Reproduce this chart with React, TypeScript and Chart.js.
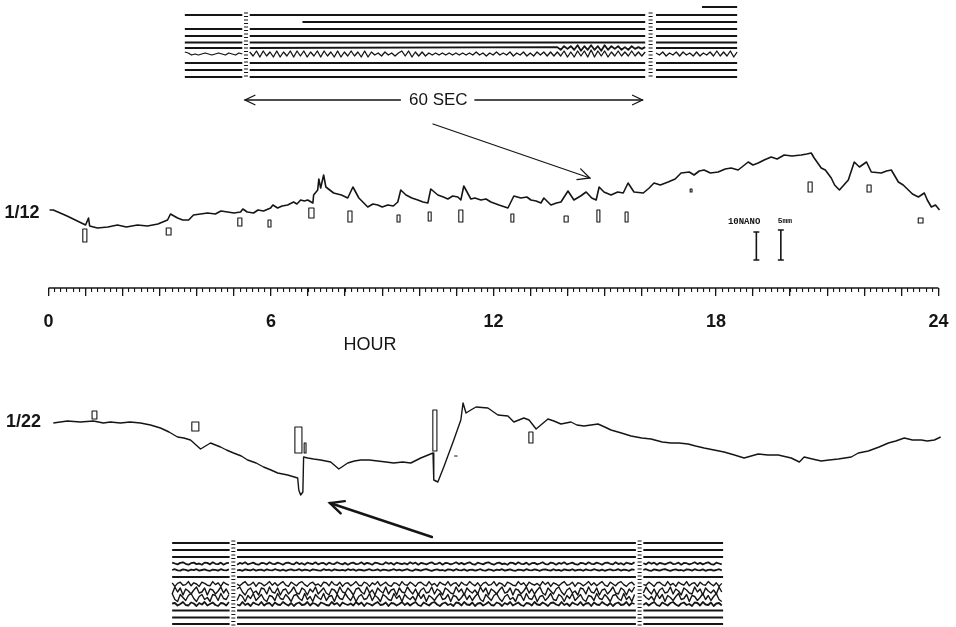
import React, { useEffect, useRef } from 'react';
import { Chart, registerables } from 'chart.js';

Chart.register(...registerables);

// ================= DATA =================
// Record of 1/12 : hour of day -> relative current level
const HOURS_0112 = [0.03,0.13,0.5,1.00,1.08,1.11,1.32,1.6,1.86,2.1,2.4,2.67,2.95,3.21,3.29,3.48,3.62,3.78,3.91,4.1,4.29,4.5,4.65,4.83,5.0,5.18,5.24,5.36,5.53,5.65,5.80,5.99,6.05,6.18,6.3,6.45,6.61,6.7,6.80,6.9,6.99,7.13,7.15,7.26,7.29,7.34,7.42,7.48,7.69,7.9,8.07,8.21,8.37,8.61,8.75,8.88,9.0,9.15,9.3,9.42,9.50,9.64,9.8,9.96,10.1,10.23,10.31,10.50,10.65,10.77,10.9,11.04,11.12,11.20,11.39,11.5,11.66,11.8,11.93,12.15,12.39,12.55,12.74,12.9,13.01,13.15,13.28,13.36,13.55,13.7,13.82,14.01,14.17,14.35,14.50,14.65,14.77,14.85,14.98,15.17,15.35,15.5,15.63,15.79,16.04,16.2,16.33,16.5,16.71,16.9,17.06,17.28,17.41,17.55,17.68,17.85,18.06,18.25,18.41,18.6,18.87,19.0,19.14,19.3,19.49,19.65,19.84,20.05,20.30,20.45,20.57,20.65,20.84,20.95,21.11,21.2,21.33,21.45,21.57,21.73,21.87,22.06,22.19,22.46,22.6,22.73,22.92,23.05,23.19,23.3,23.46,23.62,23.7,23.81,23.92,24.03];
const VALUES_0112 = [30,30,24,15,22,14,12,13,15,13,15,14,16,20,26,22,20,20,25,26,27,26,29,28,27,28,31,28,27,30,29,32,35,32,34,35,38,36,40,39,40,37,45,50,61,52,65,53,47,45,42,53,42,33,36,35,33,35,34,38,50,45,42,40,38,37,51,45,43,41,44,43,40,54,41,42,40,41,38,35,32,44,42,43,40,39,37,42,35,37,38,49,40,44,48,42,40,53,48,45,48,47,57,48,47,52,57,55,58,61,67,68,65,69,70,67,68,71,72,70,78,75,77,80,83,81,85,84,85,86,87,82,72,70,62,55,50,55,60,78,73,78,68,67,69,70,58,55,50,46,43,47,40,33,35,30];

// Record of 1/22
const HOURS_0122 = [0.13,0.51,0.86,1.21,1.48,1.67,1.94,2.2,2.48,2.75,3.02,3.25,3.48,3.65,3.83,4.10,4.37,4.64,4.8,4.99,5.2,5.37,5.6,5.80,6.0,6.18,6.45,6.72,6.75,6.80,6.86,6.88,6.99,7.15,7.34,7.61,7.83,8.07,8.25,8.42,8.65,8.88,9.1,9.31,9.55,9.77,10.04,10.37,10.39,10.50,10.66,10.93,11.12,11.18,11.26,11.39,11.53,11.85,12.12,12.39,12.55,12.82,12.96,13.15,13.47,13.63,13.82,14.09,14.25,14.44,14.82,15.0,15.17,15.45,15.71,16.0,16.25,16.55,16.79,17.0,17.25,17.45,17.68,17.95,18.22,18.5,18.76,19.14,19.4,19.68,20.03,20.25,20.38,20.6,20.84,21.05,21.30,21.65,21.84,22.11,22.4,22.65,22.85,23.08,23.3,23.54,23.7,23.89,24.06];
const VALUES_0122 = [77,79,78,79,77,78,77,78,77,75,72,68,63,62,60,51,57,53,50,47,44,40,37,33,30,27,25,22,10,5,8,43,42,41,40,38,31,37,39,40,40,39,38,37,38,37,42,47,20,18,33,60,80,97,87,90,93,92,85,84,78,82,80,71,81,79,76,78,75,74,76,73,70,67,64,62,61,58,57,57,56,54,52,50,48,45,42,46,45,45,42,38,43,41,39,40,41,43,47,49,53,57,59,62,60,60,59,60,63];

// Event markers (hour, low, high, duration in hours)
const MARK_0112_HOUR = [0.98,3.24,5.16,5.96,7.09,8.13,9.44,10.28,11.12,12.51,13.96,14.83,15.59,17.33,20.54,22.13,23.52];
const MARK_0112_LOW  = [-2,5,14,13,22,18,18,19,18,18,18,18,18,48,48,48,17];
const MARK_0112_HIGH = [11,12,22,20,32,29,25,28,30,26,24,30,28,51,58,55,22];
const MARK_0112_DUR  = [0.11,0.13,0.11,0.08,0.14,0.11,0.08,0.08,0.11,0.08,0.11,0.08,0.08,0.05,0.11,0.11,0.13];

const MARK_0122_HOUR = [1.24,3.96,6.74,6.92,10.42,13.01,10.98];
const MARK_0122_LOW  = [81,69,47,47,49,57,44];
const MARK_0122_HIGH = [89,78,73,57,90,68,44];
const MARK_0122_DUR  = [0.13,0.19,0.19,0.05,0.11,0.11,0.08];

// Calibration bars
const CAL_LABELS = ['10NANO', '5mm'];
const CAL_HOUR = [19.09, 19.75];
const CAL_LOW = [-20, -20];
const CAL_HIGH = [8, 10];

// Hour axis
const HOUR_TICKS = [0,1,2,3,4,5,6,7,8,9,10,11,12,13,14,15,16,17,18,19,20,21,22,23,24];
const HOUR_LABELS = [0, 6, 12, 18, 24];
const MINOR_PER_HOUR = 6;

// EEG strips (seconds). Segments split by the paper breaks.
const TOP_SEGMENTS = [[-8.9, -0.4], [0.7, 59.2], [60.8, 72.8]];
const BOT_SEGMENTS = [[-9.0, -0.5], [0.6, 59.6], [60.7, 72.5]];
const TOP_BREAKS = [0.15, 60.0];
const BOT_BREAKS = [0.05, 60.15];

// wave trace of the top strip, samples every 0.5 s
const TOP_WAVE_A = [2,1,-1,0,-1,0,1,0,-1,0,1,0,-1,1,0,-1,1,0];
const TOP_WAVE_B = [2,-2,3,-3,3,-2,2,-3,3,-3,2,-2,3,-3,3,-2,3,-3,2,-2,3,-3,3,-2,2,-3,3,-3,2,-2,3,-2,2,-3,3,-3,2,-1,1,-2,2,-1,1,-2,1,
  3,-2,3,-3,2,-2,2,-2,1,-1,1,-1,1,-1,1,-1,1,-1,1,-1,
  1,-1,2,-1,1,-2,1,-1,2,-1,1,-1,2,-2,1,-1,2,-2,1,-2,2,-1,2,-2,2,-2,
  2,-2,3,-3,2,-3,3,-2,3,-3,4,-3,3,-2,3,-3,2,-2,3,-2,2,-2,3,-2,2,-2,2];
const TOP_WAVE_C = [1,-1,2,-2,1,-1,2,-2,2,-1,1,-2,2,-2,1,-1,2,-2,3,-2,2,-2,3,-3,2];
const TOP_WAVE_UPPER = [1,-2,2,-1,2,-2,3,-3,2,-2,3,-2,2,-3,3,-2,2,-1,2,-2,1,-2,2,-1,1,-1,1];

// noisy activity of the lower strip, samples every 0.4 s
const NOISE = [2,-3,1,4,-2,-4,3,0,-3,2,4,-1,-4,1,3,-2,0,-4,3,2,-3,4,-1,-2,3,-4,1,2,-3,0,4,-2,-3,3,1,-4,2,-1,4,-3,0,3,-2,-4,2,1,-3,4,-1,-2,3,0,-4,2,3,-1,-3,4,-2,1,-4,3,0,-2,4,-3,1,2,-4,3,-1,-2,4,0,-3,2,-4,1,3,-2,-1,4,-3,2,0,-4,3,1,-2,-3,4,-1,2,-4,3,0,-2,1,-3,4,-1,3,-4,2,0,-3,1,4,-2,-1,3,-4,2,1,-3,0,4,-2];
const BOT_ROW_GAIN = [0,0,0,0.3,0.2,0,0.6,1.0,1.0,0.5,0,0,0];

// ================= LAYOUT =================
const W = 956;
const H = 627;
const INK = '#151515';
const SANS = "'Liberation Sans', Arial, Helvetica, sans-serif";

const HOUR_ORIGIN_PX = 48.5;
const PX_PER_HOUR = 37.08;
const TOP_SEC_ORIGIN_PX = 245;
const BOT_SEC_ORIGIN_PX = 233;
const PX_PER_SEC = 6.76;
const Y12_ZERO_PX = 240;
const Y22_ZERO_PX = 500;
const TOP_STRIP_PX = 15;
const BOT_STRIP_PX = 543;
const RULER_LEVEL = -48;

const TOP_ROWS = [0, 7, 14, 21, 27.5, 33, 39, 48, 55, 62];
const TOP_ROW_LATE_START = 8.5; // row 1 starts later
const TOP_EXTRA_ROW = { level: -8, from: 67.6, to: 72.8 };
const BOT_ROWS = [0, 7, 14, 20.5, 27, 34, 41, 48, 54.5, 61, 67.5, 74.5, 81];

const xRange = (origin: number, ppu: number) => ({ min: -origin / ppu, max: (W - origin) / ppu });
const yUpRange = (zero: number) => ({ min: zero - H, max: zero });
const yDownRange = (zero: number) => ({ min: -zero, max: H - zero });

// ================= BUILDERS =================
type P = { x: number; y: number | null };

const series = (xs: number[], ys: number[]): P[] => xs.map((x, i) => ({ x, y: ys[i] }));

function rects(hours: number[], lows: number[], highs: number[], durs: number[]): P[] {
  const pts: P[] = [];
  hours.forEach((h, i) => {
    const a = h - durs[i] / 2;
    const b = h + durs[i] / 2;
    pts.push({ x: a, y: lows[i] }, { x: b, y: lows[i] }, { x: b, y: highs[i] }, { x: a, y: highs[i] }, { x: a, y: lows[i] }, { x: b, y: null });
  });
  return pts;
}

function ibars(hours: number[], lows: number[], highs: number[], cap: number): P[] {
  const pts: P[] = [];
  hours.forEach((h, i) => {
    pts.push({ x: h - cap, y: lows[i] }, { x: h + cap, y: lows[i] }, { x: h + cap, y: null });
    pts.push({ x: h, y: lows[i] }, { x: h, y: highs[i] }, { x: h, y: null });
    pts.push({ x: h - cap, y: highs[i] }, { x: h + cap, y: highs[i] }, { x: h + cap, y: null });
  });
  return pts;
}

function sampled(start: number, step: number, vals: number[], level: number, gain: number): P[] {
  return vals.map((v, i) => ({ x: start + i * step, y: level - v * gain }));
}

function topStrip(): P[][] {
  const rows: P[][] = [];
  TOP_ROWS.forEach((level, r) => {
    const pts: P[] = [];
    TOP_SEGMENTS.forEach(([a, b], s) => {
      if (r === 1 && s === 0) return;
      const from = r === 1 && s === 1 ? TOP_ROW_LATE_START : a;
      if (r === 6) {
        const vals = s === 0 ? TOP_WAVE_A : s === 1 ? TOP_WAVE_B : TOP_WAVE_C;
        pts.push(...sampled(a, 0.5, vals, level, 1));
      } else if (r === 5 && s === 1) {
        const waveStart = b - (TOP_WAVE_UPPER.length - 1) * 0.5;
        pts.push({ x: from, y: level });
        pts.push(...sampled(waveStart, 0.5, TOP_WAVE_UPPER, level, 0.9));
      } else {
        pts.push({ x: from, y: level }, { x: b, y: level });
      }
      pts.push({ x: b, y: null });
    });
    rows.push(pts);
  });
  rows.push([{ x: TOP_EXTRA_ROW.from, y: TOP_EXTRA_ROW.level }, { x: TOP_EXTRA_ROW.to, y: TOP_EXTRA_ROW.level }]);
  return rows;
}

function botStrip(): P[][] {
  const rows: P[][] = [];
  BOT_ROWS.forEach((level, r) => {
    const pts: P[] = [];
    const gain = BOT_ROW_GAIN[r];
    BOT_SEGMENTS.forEach(([a, b]) => {
      if (gain === 0) {
        pts.push({ x: a, y: level }, { x: b, y: level });
      } else {
        const n = Math.floor((b - a) / 0.4) + 1;
        const vals: number[] = [];
        for (let i = 0; i < n; i++) vals.push(NOISE[(i + r * 23 + Math.round(a * 3) + 200) % NOISE.length]);
        pts.push(...sampled(a, 0.4, vals, level, gain));
      }
      pts.push({ x: b, y: null });
    });
    rows.push(pts);
  });
  return rows;
}

function breakDashes(breaks: number[], from: number, to: number, gap: number, half: number): P[] {
  const pts: P[] = [];
  breaks.forEach((t) => {
    for (let lv = from; lv <= to; lv += gap) {
      pts.push({ x: t - half, y: lv }, { x: t + half, y: lv }, { x: t + half, y: null });
    }
  });
  return pts;
}

const line = (label: string, data: P[], xAxisID: string, yAxisID: string, width = 1.4) => ({
  label, data, xAxisID, yAxisID,
  borderColor: INK, borderWidth: width, pointRadius: 0, tension: 0, fill: false, spanGaps: false,
  borderJoinStyle: 'round' as const, borderCapStyle: 'butt' as const,
});

// ================= ANNOTATIONS =================
const ARROWS = [
  { xs: 'xTop', ys: 'yTop', from: [23.0, 85], to: [0, 85], head: 11, width: 1.3 },
  { xs: 'xTop', ys: 'yTop', from: [34.0, 85], to: [58.8, 85], head: 11, width: 1.3 },
  { xs: 'x', ys: 'y12', from: [10.37, 116], to: [14.6, 62], head: 13, width: 1.3 },
  { xs: 'x', ys: 'y22', from: [10.34, -37], to: [7.59, -3], head: 15, width: 2.4 },
];

const TEXTS = [
  { text: '1/12', xs: 'x', x: -0.715, ys: 'y12', y: 27, font: `bold 18px ${SANS}` },
  { text: '1/22', xs: 'x', x: -0.674, ys: 'y22', y: 78, font: `bold 18px ${SANS}` },
  { text: 'HOUR', xs: 'x', x: 8.67, ys: 'y12', y: -105, font: `18px ${SANS}` },
  { text: '60 SEC', xs: 'xTop', x: 28.6, ys: 'yTop', y: 85, font: `17px ${SANS}` },
  { text: CAL_LABELS[0], xs: 'x', x: 18.76, ys: 'y12', y: 18, font: `bold 9px 'Liberation Mono', monospace` },
  { text: CAL_LABELS[1], xs: 'x', x: 19.86, ys: 'y12', y: 19, font: `bold 8px 'Liberation Mono', monospace` },
];

const annotate = {
  id: 'annotate',
  afterDatasetsDraw(chart: any) {
    const ctx = chart.ctx as CanvasRenderingContext2D;
    ctx.save();
    ctx.strokeStyle = INK;
    ctx.fillStyle = INK;
    ctx.lineCap = 'round';
    for (const a of ARROWS) {
      const xs = chart.scales[a.xs];
      const ys = chart.scales[a.ys];
      const x0 = xs.getPixelForValue(a.from[0]);
      const y0 = ys.getPixelForValue(a.from[1]);
      const x1 = xs.getPixelForValue(a.to[0]);
      const y1 = ys.getPixelForValue(a.to[1]);
      ctx.lineWidth = a.width;
      ctx.beginPath();
      ctx.moveTo(x0, y0);
      ctx.lineTo(x1, y1);
      ctx.stroke();
      const ang = Math.atan2(y1 - y0, x1 - x0);
      const spread = 0.45;
      ctx.beginPath();
      ctx.moveTo(x1 - a.head * Math.cos(ang - spread), y1 - a.head * Math.sin(ang - spread));
      ctx.lineTo(x1, y1);
      ctx.lineTo(x1 - a.head * Math.cos(ang + spread), y1 - a.head * Math.sin(ang + spread));
      ctx.stroke();
    }
    ctx.textAlign = 'center';
    ctx.textBaseline = 'middle';
    for (const t of TEXTS) {
      ctx.font = t.font;
      ctx.fillText(t.text, chart.scales[t.xs].getPixelForValue(t.x), chart.scales[t.ys].getPixelForValue(t.y));
    }
    ctx.restore();
  },
};

// ================= CHART =================
const noPadding = (s: any) => {
  s.paddingLeft = 0;
  s.paddingRight = 0;
  s.paddingTop = 0;
  s.paddingBottom = 0;
};

function buildConfig(): any {
  const hourRange = xRange(HOUR_ORIGIN_PX, PX_PER_HOUR);
  const minorTicks: { value: number }[] = [];
  for (let i = 0; i <= 24 * MINOR_PER_HOUR; i++) minorTicks.push({ value: i / MINOR_PER_HOUR });

  const datasets: any[] = [
    line('1/12', series(HOURS_0112, VALUES_0112), 'x', 'y12', 1.6),
    line('1/22', series(HOURS_0122, VALUES_0122), 'x', 'y22', 1.4),
    line('marks 1/12', rects(MARK_0112_HOUR, MARK_0112_LOW, MARK_0112_HIGH, MARK_0112_DUR), 'x', 'y12', 1.1),
    line('marks 1/22', rects(MARK_0122_HOUR, MARK_0122_LOW, MARK_0122_HIGH, MARK_0122_DUR), 'x', 'y22', 1.1),
    line('calibration', ibars(CAL_HOUR, CAL_LOW, CAL_HIGH, 0.08), 'x', 'y12', 1.6),
    line('ruler', [{ x: 0, y: RULER_LEVEL }, { x: 24, y: RULER_LEVEL }], 'x', 'y12', 1.4),
    line('top breaks', breakDashes(TOP_BREAKS, -2, 64, 3.5, 0.3), 'xTop', 'yTop', 1.2),
    line('bottom breaks', breakDashes(BOT_BREAKS, -2, 83, 3.5, 0.3), 'xBot', 'yBot', 1.2),
  ];
  topStrip().forEach((row, i) => datasets.push(line('top ' + i, row, 'xTop', 'yTop', i === 6 ? 1.3 : 1.8)));
  botStrip().forEach((row, i) => datasets.push(line('bot ' + i, row, 'xBot', 'yBot', BOT_ROW_GAIN[i] > 0.5 ? 1.4 : 1.8)));

  const hidden = { display: false, type: 'linear' };
  return {
    type: 'line',
    data: { datasets },
    options: {
      animation: false,
      responsive: false,
      maintainAspectRatio: false,
      devicePixelRatio: 1,
      events: [],
      layout: { padding: 0, autoPadding: false },
      plugins: { legend: { display: false }, tooltip: { enabled: false } },
      scales: {
        x: { ...hidden, ...hourRange },
        xTop: { ...hidden, ...xRange(TOP_SEC_ORIGIN_PX, PX_PER_SEC) },
        xBot: { ...hidden, ...xRange(BOT_SEC_ORIGIN_PX, PX_PER_SEC) },
        y12: { ...hidden, ...yUpRange(Y12_ZERO_PX) },
        y22: { ...hidden, ...yUpRange(Y22_ZERO_PX) },
        yTop: { ...hidden, reverse: true, ...yDownRange(TOP_STRIP_PX) },
        yBot: { ...hidden, reverse: true, ...yDownRange(BOT_STRIP_PX) },
        rulerMinor: {
          type: 'linear', axis: 'x', position: { y12: RULER_LEVEL }, ...hourRange,
          afterBuildTicks: (s: any) => { s.ticks = minorTicks.map((t) => ({ ...t })); },
          afterFit: noPadding,
          border: { display: false },
          grid: { display: true, drawOnChartArea: false, drawTicks: true, tickLength: 4, color: INK, lineWidth: 1.1 },
          ticks: { display: false },
        },
        rulerMajor: {
          type: 'linear', axis: 'x', position: { y12: RULER_LEVEL }, ...hourRange,
          afterBuildTicks: (s: any) => { s.ticks = HOUR_TICKS.map((v) => ({ value: v })); },
          afterFit: noPadding,
          border: { display: false },
          grid: { display: true, drawOnChartArea: false, drawTicks: true, tickLength: 8, color: INK, lineWidth: 1.3 },
          ticks: {
            autoSkip: false, maxRotation: 0, padding: 15, color: INK,
            font: { family: SANS, weight: 'bold', size: 18 },
            callback: (v: number) => (HOUR_LABELS.includes(v) ? String(v) : ''),
          },
        },
      },
    },
    plugins: [annotate],
  };
}

export default function App() {
  const ref = useRef<HTMLCanvasElement>(null);
  useEffect(() => {
    document.body.style.margin = '0';
    document.body.style.background = '#fff';
    const chart = new Chart(ref.current as HTMLCanvasElement, buildConfig());
    return () => chart.destroy();
  }, []);
  return (
    <div style={{ width: W, height: H, background: '#fff' }}>
      <canvas ref={ref} width={W} height={H} style={{ display: 'block' }} />
    </div>
  );
}
